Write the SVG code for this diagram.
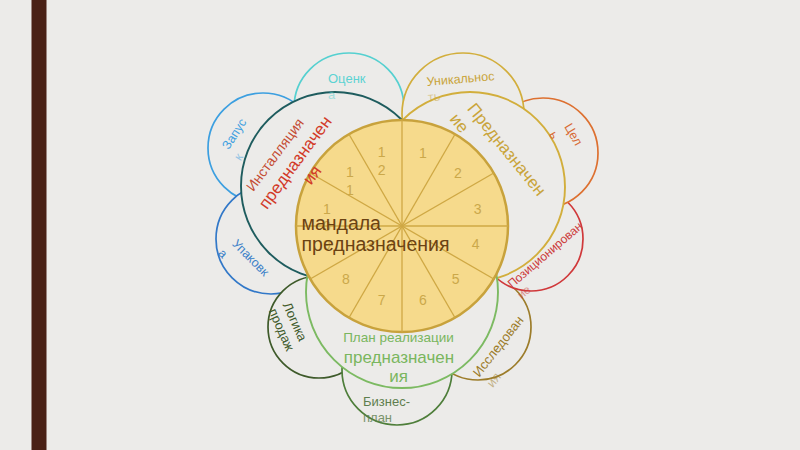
<svg xmlns="http://www.w3.org/2000/svg" width="800" height="450" viewBox="0 0 800 450">
<style>
text{font-family:"Liberation Sans",Arial,sans-serif}
.p{fill:#ECEBE9;stroke-width:1.7}
.big{fill:#ECEBE9;stroke-width:1.9}
.num{font-size:14px;fill:#CBA84A;text-anchor:middle}
.spoke{stroke:#CFA844;stroke-width:1.3}
.fade{opacity:.5}
.mid{text-anchor:middle}
</style>
<rect width="800" height="450" fill="#ECEBE9"/>
<rect x="31.5" y="0" width="15" height="450" fill="#4A2116"/>

<g id="petal-ocenka"><circle class="p" cx="349" cy="108" r="55" stroke="#55D0D0"/></g>
<g id="petal-zapusk"><circle class="p" cx="263" cy="148" r="55" stroke="#3C9FE0"/></g>
<g id="petal-upakovka"><circle class="p" cx="271" cy="239" r="55" stroke="#3278C8"/></g>
<g id="petal-logika"><circle class="p" cx="319" cy="327" r="51" stroke="#3E5A2A"/></g>
<g id="petal-biznes"><circle class="p" cx="397" cy="370" r="55" stroke="#4E7E3A"/></g>
<g id="petal-issled"><circle class="p" cx="478" cy="327" r="53" stroke="#9C7C2A"/></g>
<g id="petal-pozic"><circle class="p" cx="531" cy="239" r="52" stroke="#D0383A"/></g>
<g id="petal-cel"><circle class="p" cx="543" cy="153" r="55" stroke="#DD7030"/></g>
<g id="petal-unik"><circle class="p" cx="463" cy="114" r="61" stroke="#D2AE3C"/></g>

<g id="big-install"><circle class="big" cx="335" cy="186" r="94" stroke="#1E5C5E"/></g>
<g id="big-prednaz"><circle class="big" cx="470" cy="187" r="95" stroke="#D2AE3C"/></g>
<g id="big-plan"><circle class="big" cx="402" cy="292" r="96" stroke="#7CBA62"/></g>

<g id="labels-petals">
<text x="328" y="82.7" fill="#5CD3D3" font-size="13">Оценк</text>
<text x="328" y="98.5" fill="#5CD3D3" font-size="13" class="fade">а</text>
<g transform="translate(427 86) rotate(-5)" fill="#C9A43A" font-size="12.5"><text>Уникальнос</text><text y="15.5" class="fade">ть</text></g>
<g transform="translate(564 126.5) rotate(60)" fill="#D86A35" font-size="12.5"><text>Цел</text><text x="-1" y="17">ь</text></g>
<g transform="translate(512 288.5) rotate(-40.5)" fill="#CC3B3B" font-size="12"><text>Позиционирован</text><text y="14.5" class="fade">ие</text></g>
<g transform="translate(479.3 377.7) rotate(-52)" fill="#9C7C2A" font-size="13"><text>Исследован</text><text y="17" class="fade">ия</text></g>
<g fill="#5E7E4E" font-size="13"><text x="363" y="406">Бизнес-</text><text x="363" y="421.7" opacity=".8">план</text></g>
<g transform="translate(282.6 304.8) rotate(66)" fill="#3E5A2A" font-size="13"><text>Логика</text><text y="15.5">продаж</text></g>
<g transform="translate(231.4 244.4) rotate(45)" fill="#3A80C8" font-size="12.5"><text>Упаковк</text><text x="-3" y="16.5">а</text></g>
<g transform="translate(228.6 150.3) rotate(-57)" fill="#3FA0E0" font-size="12.5"><text>Запус</text><text x="-3" y="16" class="fade">к</text></g>
</g>

<g id="center">
<circle cx="402" cy="226" r="106" fill="#F6DA8C" stroke="#C8A23C" stroke-width="2.5"/>
<g class="spoke">
<line x1="402" y1="120" x2="402" y2="332"/>
<line x1="296" y1="226" x2="508" y2="226"/>
<line x1="455" y1="134.2" x2="349" y2="317.8"/>
<line x1="493.8" y1="173" x2="310.2" y2="279"/>
<line x1="493.8" y1="279" x2="310.2" y2="173"/>
<line x1="455" y1="317.8" x2="349" y2="134.2"/>
</g>
<text class="num" x="423" y="157.7">1</text>
<text class="num" x="458" y="177.7">2</text>
<text class="num" x="477.7" y="214">3</text>
<text class="num" x="475.7" y="249">4</text>
<text class="num" x="455.7" y="284">5</text>
<text class="num" x="423" y="305">6</text>
<text class="num" x="381.7" y="305">7</text>
<text class="num" x="346" y="284">8</text>
<text class="num" x="327" y="250">9</text>
<text class="num" x="327" y="214">1</text>
<text class="num" x="327" y="231">0</text>
<text class="num" x="350" y="176.7">1</text>
<text class="num" x="350" y="195">1</text>
<text class="num" x="381.7" y="156.7">1</text>
<text class="num" x="381.7" y="175">2</text>
<text x="301.5" y="230" font-size="19.5" fill="#6B4212">мандала</text>
<text x="301.5" y="250.5" font-size="19.5" fill="#6B4212">предназначения</text>
</g>

<g id="labels-big">
<g transform="translate(279 157.6) rotate(-53.5)" class="mid">
<text font-size="14" fill="#C44B33">Инсталляция</text>
<text x="5.7" y="21.5" font-size="17" fill="#D23A28">предназначен</text>
<text x="5.7" y="42.5" font-size="17" fill="#D23A28">ия</text>
</g>
<g transform="translate(466.5 109.1) rotate(51)" fill="#C9A43A" font-size="17"><text>Предназначен</text><text x="-3" y="20">ие</text></g>
<g class="mid" fill="#7AB65E">
<text x="398.5" y="341.7" font-size="13.5">План реализации</text>
<text x="399" y="363.3" font-size="17">предназначен</text>
<text x="398.5" y="381.7" font-size="17">ия</text>
</g>
</g>
</svg>
